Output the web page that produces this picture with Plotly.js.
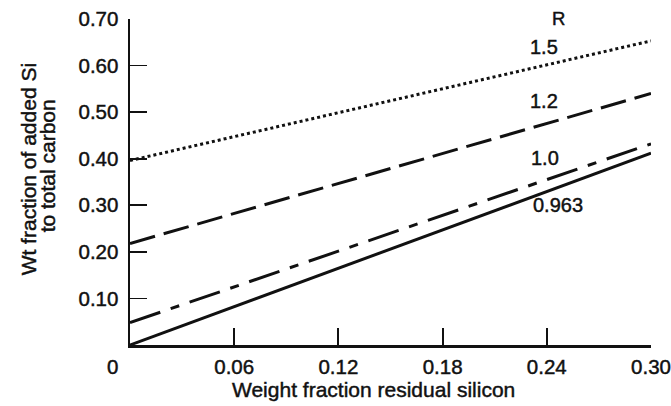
<!DOCTYPE html>
<html>
<head>
<meta charset="utf-8">
<script src="https://cdn.plot.ly/plotly-3.0.1.min.js"></script>
<style>
html,body{margin:0;padding:0;background:#fff;}
#chart{width:671px;height:406px;}
#chart text{stroke:#111111;stroke-width:0.45px;}
</style>
</head>
<body>
<div id="chart"></div>
<script>
// Data
const xResidualSi = [0, 0.30];
const addedSi_R1_5 = [0.396, 0.653];
const addedSi_R1_2 = [0.218, 0.540];
const addedSi_R1_0 = [0.048, 0.432];
const addedSi_R0_963 = [0.000, 0.412];
const seriesNames = ['1.5', '1.2', '1.0', '0.963'];
const xTickVals = [0.06, 0.12, 0.18, 0.24, 0.30];
const xTickText = ['0.06', '0.12', '0.18', '0.24', '0.30'];
const yTickVals = [0.10, 0.20, 0.30, 0.40, 0.50, 0.60, 0.70];
const yTickText = ['0.10', '0.20', '0.30', '0.40', '0.50', '0.60', '0.70'];

const FONT = 'Liberation Sans, Arial, Helvetica, sans-serif';
const INK = '#111111';

const traces = [
  {x: xResidualSi, y: addedSi_R1_5, name: seriesNames[0], mode: 'lines',
   line: {color: INK, width: 3, dash: '3px,3px'}},
  {x: xResidualSi, y: addedSi_R1_2, name: seriesNames[1], mode: 'lines',
   line: {color: INK, width: 3, dash: '26px,9px'}},
  {x: xResidualSi, y: addedSi_R1_0, name: seriesNames[2], mode: 'lines',
   line: {color: INK, width: 3, dash: '32px,11px,9px,11px'}},
  {x: xResidualSi, y: addedSi_R0_963, name: seriesNames[3], mode: 'lines',
   line: {color: INK, width: 3}}
];

// pixel helpers for label placement (plot area 129.5..651 x 19..345.5)
const L = 129.5, R = 651, T = 19, B = 345.5;
const px = p => (p - L) / (R - L);
const py = p => (B - p) / (B - T);

function ann(text, x, y, size, extra) {
  return Object.assign({
    text: text, xref: 'paper', yref: 'paper', x: px(x), y: py(y),
    xanchor: 'center', yanchor: 'middle', showarrow: false,
    font: {family: FONT, size: size, color: INK}
  }, extra || {});
}

const annotations = [
  ann('R', 558, 18, 18.5),
  ann(seriesNames[0], 544, 47, 20),
  ann(seriesNames[1], 544, 101, 20),
  ann(seriesNames[2], 545, 158, 20),
  ann(seriesNames[3], 558, 205, 20),
  ann('0', 112, 367, 20.5),
  ann('Weight fraction residual silicon', 373, 390, 21),
  ann('Wt fraction of added Si', 28, 170, 21, {textangle: -90}),
  ann('to total carbon', 47, 166, 21, {textangle: -90})
];

const layout = {
  width: 671, height: 406, autosize: false,
  margin: {l: L, r: 671 - R, t: T, b: 406 - B, pad: 0},
  paper_bgcolor: '#ffffff', plot_bgcolor: '#ffffff',
  showlegend: false,
  font: {family: FONT, color: INK, size: 20},
  xaxis: {
    range: [0, 0.30], showgrid: false, zeroline: false,
    showline: true, linecolor: INK, linewidth: 2.5,
    ticks: 'inside', ticklen: 17, tickwidth: 1.8, tickcolor: INK,
    tickvals: xTickVals, ticktext: xTickText, ticklabelstandoff: 2,
    tickfont: {family: FONT, size: 20.5, color: INK}
  },
  yaxis: {
    range: [0, 0.70], showgrid: false, zeroline: false,
    showline: true, linecolor: INK, linewidth: 2.5,
    ticks: 'inside', ticklen: 17, tickwidth: 1.8, tickcolor: INK,
    tickvals: yTickVals, ticktext: yTickText, ticklabelstandoff: 5,
    tickfont: {family: FONT, size: 20.5, color: INK}
  },
  annotations: annotations
};

Plotly.newPlot('chart', traces, layout, {staticPlot: true, displayModeBar: false});
</script>
</body>
</html>
